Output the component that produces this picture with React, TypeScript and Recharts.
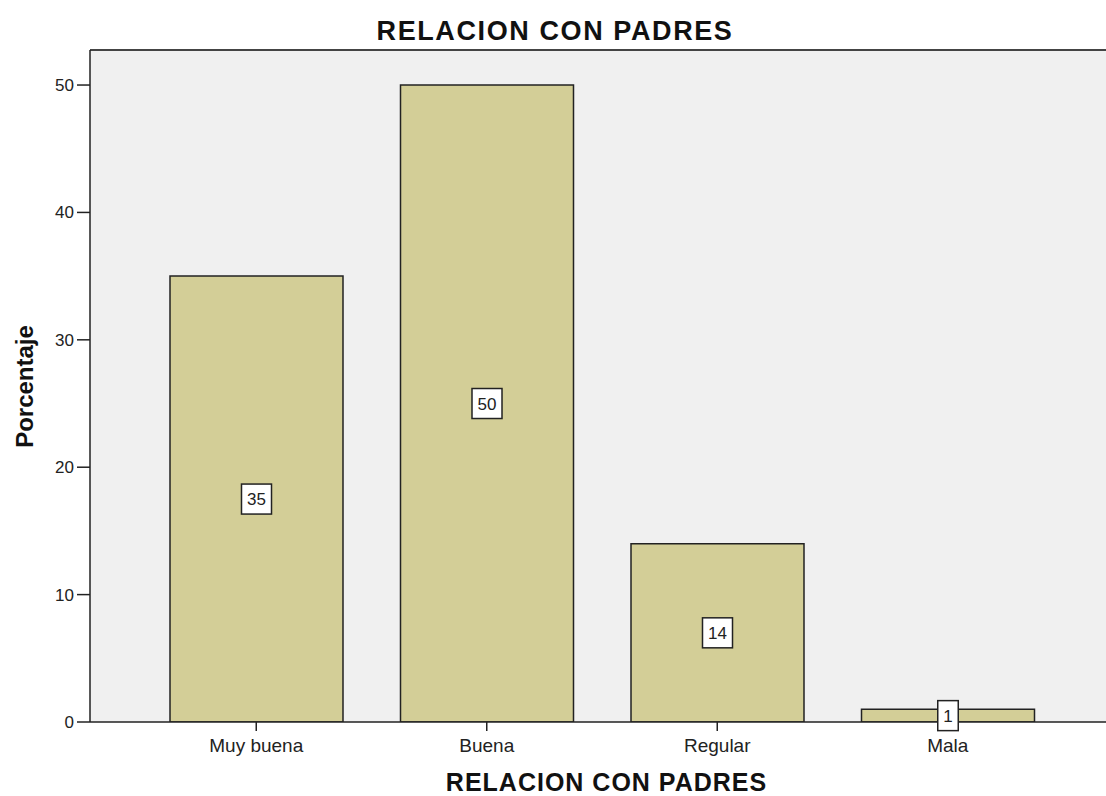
import React from 'react';
import { BarChart, Bar, XAxis, YAxis, CartesianGrid, ReferenceLine, LabelList } from 'recharts';

const categories = ['Muy buena', 'Buena', 'Regular', 'Mala'];
const percentages = [35, 50, 14, 1];
const yTicks = [0, 10, 20, 30, 40, 50];
const chartTitle = 'RELACION CON PADRES';
const xTitle = 'RELACION CON PADRES';
const yTitle = 'Porcentaje';

const data = categories.map((c, i) => ({ cat: c, value: percentages[i] }));

const FONT = '"Liberation Sans", Arial, sans-serif';

const BoxLabel = (props: any) => {
  const { x, y, width, height, value } = props;
  const cx = x + width / 2;
  const cy = y + height / 2;
  const s = String(value);
  const tw = s.length * 9.5;
  const bw = tw + 11;
  const bh = 30;
  return (
    <g>
      <rect x={cx - bw / 2} y={cy - bh / 2} width={bw} height={bh} fill="#ffffff" stroke="#222" strokeWidth={1.5} />
      <text x={cx} y={cy + 6} textAnchor="middle" fontFamily={FONT} fontSize={17} fill="#222">{s}</text>
    </g>
  );
};

export default function App() {
  return (
    <div style={{ position: 'absolute', left: 0, top: 0, width: 1106, height: 796, background: '#fff' }}>
      <BarChart width={1106} height={796} data={data} margin={{ top: 50, right: 0, bottom: 0, left: 0 }}>
        <CartesianGrid horizontal={false} vertical={false} fill="#F0F0F0" />
        <XAxis
          dataKey="cat"
          height={74}
          padding={{ left: 51, right: 43 }}
          tickSize={9}
          tickMargin={8}
          axisLine={{ stroke: '#222', strokeWidth: 1.5 }}
          tickLine={{ stroke: '#222', strokeWidth: 1.5 }}
          tick={{ fontFamily: FONT, fontSize: 19, fill: '#222' }}
        />
        <YAxis
          width={90}
          domain={[0, 52.75]}
          ticks={yTicks}
          allowDataOverflow
          tickSize={13}
          tickMargin={3}
          axisLine={{ stroke: '#222', strokeWidth: 1.5 }}
          tickLine={{ stroke: '#222', strokeWidth: 1.5 }}
          tick={{ fontFamily: FONT, fontSize: 17, fill: '#222' }}
        />
        <ReferenceLine y={52.75} stroke="#444" strokeWidth={2} ifOverflow="visible" />
        <Bar dataKey="value" fill="#D3CE97" stroke="#222" strokeWidth={1.5} barSize={173} isAnimationActive={false}>
          <LabelList dataKey="value" content={BoxLabel} />
        </Bar>
      </BarChart>
      <svg width={1106} height={796} style={{ position: 'absolute', left: 0, top: 0, pointerEvents: 'none' }}>
        <text x={555} y={40} textAnchor="middle" fontFamily={FONT} fontWeight="bold" fontSize={27} letterSpacing={1.6} fill="#111">{chartTitle}</text>
        <text x={606.5} y={791} textAnchor="middle" fontFamily={FONT} fontWeight="bold" fontSize={25} letterSpacing={1} fill="#111">{xTitle}</text>
        <text x={33} y={386.5} textAnchor="middle" fontFamily={FONT} fontWeight="bold" fontSize={24} fill="#111" transform="rotate(-90, 33, 386.5)">{yTitle}</text>
      </svg>
    </div>
  );
}
